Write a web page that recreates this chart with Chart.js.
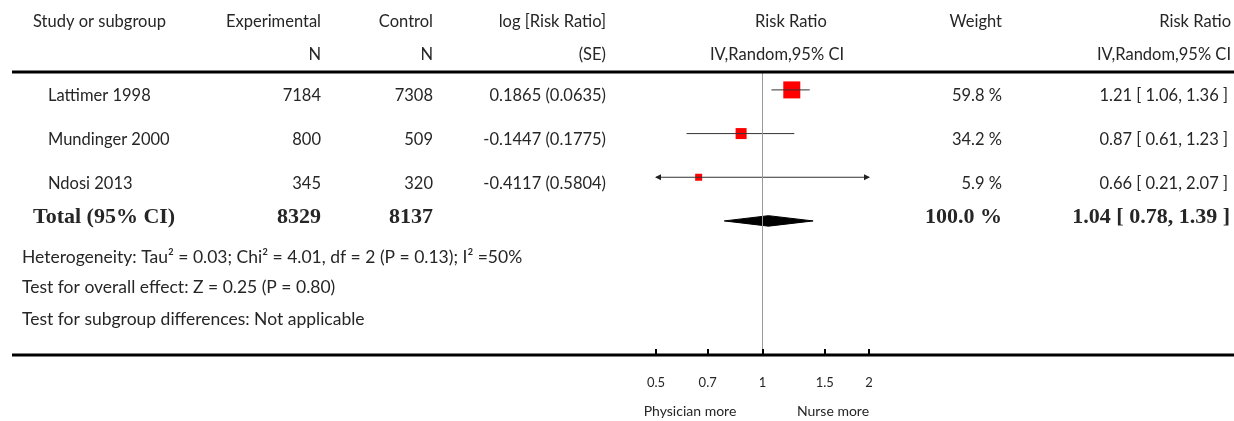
<!DOCTYPE html>
<html>
<head>
<meta charset="utf-8">
<script src="https://cdn.jsdelivr.net/npm/chart.js@4.4.0/dist/chart.umd.min.js"></script>
<style>
  html, body { margin: 0; padding: 0; background: #fff; }
  #wrap { width: 1234px; height: 421px; position: relative; }
</style>
</head>
<body>
<div id="wrap"><canvas id="forest"></canvas></div>
<script>
// study rows
const studies = ['Lattimer 1998', 'Mundinger 2000', 'Ndosi 2013'];
const expN = [7184, 800, 345];
const ctrlN = [7308, 509, 320];
const logRR = [0.1865, -0.1447, -0.4117];
const logSE = [0.0635, 0.1775, 0.5804];
const riskRatio = [1.21, 0.87, 0.66];
const ciLow = [1.06, 0.61, 0.21];
const ciHigh = [1.36, 1.23, 2.07];
const weights = [59.8, 34.2, 5.9];

// pooled
const totalExpN = 8329;
const totalCtrlN = 8137;
const totalRR = 1.04;
const totalLow = 0.78;
const totalHigh = 1.39;
const totalWeight = 100.0;

const xTicks = [0.5, 0.7, 1, 1.5, 2];
const xTickLabels = ['0.5', '0.7', '1', '1.5', '2'];

const footnotes = [
  'Heterogeneity: Tau\u00b2 = 0.03; Chi\u00b2 = 4.01, df = 2 (P = 0.13); I\u00b2 =50%',
  'Test for overall effect: Z = 0.25 (P = 0.80)',
  'Test for subgroup differences: Not applicable'
];

// square side in px for each study
const boxSide = [17, 11, 7];

const Y_MIN = 0.59, Y_MAX = 7.07;
const totalRow = studies.length + 1;
const FONT = 'Lato, "Open Sans", sans-serif';
const SERIF = '"Liberation Serif", "DejaVu Serif", serif';
const TXT = '#262626';
const BODY = '16.5px ' + FONT;

const fmt2 = v => v.toFixed(2);
const ciText = (r, lo, hi) => fmt2(r) + ' [ ' + fmt2(lo) + ', ' + fmt2(hi) + ' ]';

const datasets = [];
// line of no effect
datasets.push({
  data: [{x: 1, y: Y_MIN}, {x: 1, y: Y_MAX}],
  showLine: true, borderColor: '#9a9a9a', borderWidth: 1, pointRadius: 0
});
// confidence intervals
studies.forEach((s, i) => {
  datasets.push({
    data: [{x: ciLow[i], y: i + 1}, {x: ciHigh[i], y: i + 1}],
    showLine: true, borderColor: '#333', borderWidth: 1, pointRadius: 0
  });
});
// weight boxes
datasets.push({
  data: studies.map((s, i) => ({x: riskRatio[i], y: i + 1})),
  pointStyle: 'rect',
  pointRadius: boxSide.map(d => d / Math.SQRT2),
  backgroundColor: '#ff0000', borderWidth: 0
});
// point estimate marks
datasets.push({
  data: studies.map((s, i) => ({x: riskRatio[i], y: i + 1})),
  pointStyle: 'line', rotation: 90, pointRadius: 2.5,
  borderColor: '#333', borderWidth: 1, backgroundColor: '#333'
});
// pooled diamond
const dh = 0.12;
datasets.push({
  data: [
    {x: totalLow, y: totalRow}, {x: totalRR, y: totalRow - dh},
    {x: totalHigh, y: totalRow}, {x: totalRR, y: totalRow + dh},
    {x: totalLow, y: totalRow}
  ],
  showLine: true, fill: 'shape', tension: 0,
  borderColor: '#000', backgroundColor: '#000', borderWidth: 1, pointRadius: 0
});

function txt(ctx, s, x, y, align, font) {
  ctx.font = font || BODY;
  ctx.textAlign = align || 'left';
  ctx.textBaseline = 'middle';
  ctx.fillText(s, x, y);
}

const tablePlugin = {
  id: 'table',
  afterDraw(chart) {
    const ctx = chart.ctx;
    const xs = chart.scales.x, ys = chart.scales.y;
    const area = chart.chartArea;
    ctx.save();
    ctx.fillStyle = TXT;

    // header
    txt(ctx, 'Study or subgroup', 33, 22);
    txt(ctx, 'Experimental', 321, 22, 'right');
    txt(ctx, 'N', 321, 55, 'right');
    txt(ctx, 'Control', 433, 22, 'right');
    txt(ctx, 'N', 433, 55, 'right');
    txt(ctx, 'log [Risk Ratio]', 606, 22, 'right');
    txt(ctx, '(SE)', 606, 55, 'right');
    txt(ctx, 'Risk Ratio', 791, 22, 'center');
    txt(ctx, 'IV,Random,95% CI', 777, 55, 'center');
    txt(ctx, 'Weight', 1002, 22, 'right');
    txt(ctx, 'Risk Ratio', 1231, 22, 'right');
    txt(ctx, 'IV,Random,95% CI', 1231, 55, 'right');

    // study rows
    studies.forEach((s, i) => {
      const y = ys.getPixelForValue(i + 1) + 6;
      txt(ctx, s, 48, y);
      txt(ctx, String(expN[i]), 321, y, 'right');
      txt(ctx, String(ctrlN[i]), 433, y, 'right');
      txt(ctx, logRR[i].toFixed(4) + ' (' + logSE[i].toFixed(4) + ')', 606, y, 'right');
      txt(ctx, weights[i].toFixed(1) + ' %', 1002, y, 'right');
      txt(ctx, ciText(riskRatio[i], ciLow[i], ciHigh[i]), 1228, y, 'right');
    });

    // total row
    const bold = 'bold 22px ' + SERIF;
    const ty = ys.getPixelForValue(totalRow) - 4;
    txt(ctx, 'Total (95% CI)', 33, ty, 'left', bold);
    txt(ctx, String(totalExpN), 321, ty, 'right', bold);
    txt(ctx, String(totalCtrlN), 433, ty, 'right', bold);
    txt(ctx, totalWeight.toFixed(1) + ' %', 1002, ty, 'right', bold);
    txt(ctx, ciText(totalRR, totalLow, totalHigh), 1230, ty, 'right', bold);

    // footnotes
    [257, 287, 319].forEach((y, i) => txt(ctx, footnotes[i], 22, y, 'left', '17.5px ' + FONT));

    // rules
    ctx.fillStyle = '#000';
    ctx.fillRect(12, area.top - 1.5, 1222, 3);
    ctx.fillRect(12, area.bottom - 1.5, 1222, 3);

    // axis tick marks
    xTicks.forEach(v => {
      const px = Math.round(xs.getPixelForValue(v));
      ctx.fillRect(px - 1, area.bottom - 6, 2, 6);
    });

    // arrows where CI runs off the scale
    ctx.fillStyle = '#222';
    studies.forEach((s, i) => {
      const y = ys.getPixelForValue(i + 1);
      if (ciLow[i] < xs.min) {
        const x0 = xs.getPixelForValue(xs.min) - 1;
        ctx.beginPath();
        ctx.moveTo(x0, y); ctx.lineTo(x0 + 6, y - 3); ctx.lineTo(x0 + 6, y + 3);
        ctx.closePath(); ctx.fill();
      }
      if (ciHigh[i] > xs.max) {
        const x1 = xs.getPixelForValue(xs.max) + 1;
        ctx.beginPath();
        ctx.moveTo(x1, y); ctx.lineTo(x1 - 6, y - 3); ctx.lineTo(x1 - 6, y + 3);
        ctx.closePath(); ctx.fill();
      }
    });

    // direction labels
    ctx.fillStyle = TXT;
    txt(ctx, 'Physician more', 690, 411, 'center', '14px ' + FONT);
    txt(ctx, 'Nurse more', 833, 411, 'center', '14px ' + FONT);
    ctx.restore();
  }
};

new Chart(document.getElementById('forest'), {
  type: 'scatter',
  data: { datasets: datasets },
  options: {
    responsive: true,
    maintainAspectRatio: false,
    animation: false,
    events: [],
    layout: { padding: { left: 656, right: 365, top: 72, bottom: 26 } },
    plugins: { legend: { display: false }, tooltip: { enabled: false } },
    scales: {
      x: {
        type: 'logarithmic',
        min: 0.5,
        max: 2,
        afterBuildTicks: s => { s.ticks = xTicks.map(v => ({ value: v })); },
        afterFit: s => { s.height = 40; },
        ticks: {
          autoSkip: false,
          maxRotation: 0,
          padding: 12,
          color: TXT,
          font: { family: FONT, size: 13 },
          callback: v => xTickLabels[xTicks.indexOf(v)]
        },
        grid: { display: false },
        border: { display: false }
      },
      y: {
        type: 'linear',
        reverse: true,
        min: Y_MIN,
        max: Y_MAX,
        display: false
      }
    }
  },
  plugins: [tablePlugin]
});
</script>
</body>
</html>
